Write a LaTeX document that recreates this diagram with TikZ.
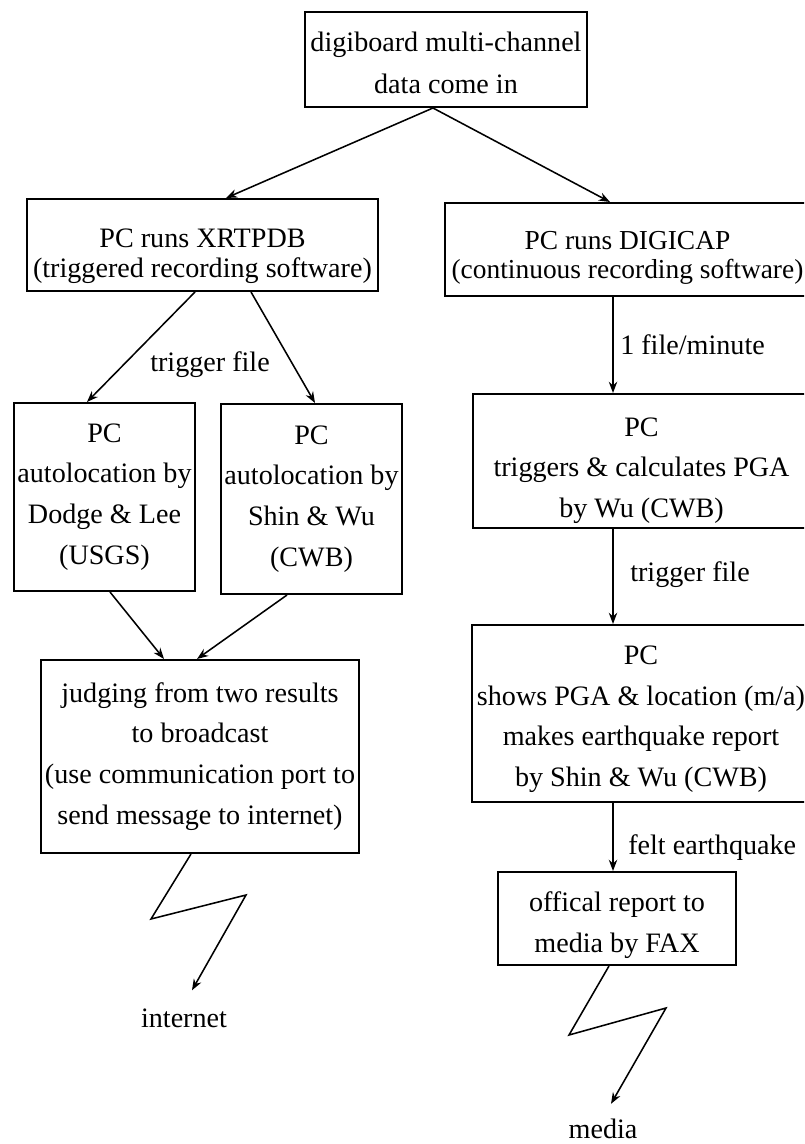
\documentclass[tikz,border=0pt]{standalone}
\usepackage{fontspec}
\setmainfont{Liberation Serif}
\usetikzlibrary{arrows.meta,positioning,calc}
\tikzset{
  blk/.style={draw,rectangle,line width=1.4pt,align=center,inner xsep=0.5pt,inner ysep=1pt,font=\fontsize{20}{29}\selectfont},
  tightblk/.style={blk,font=\fontsize{20}{21}\selectfont},
  arr/.style={-{Stealth[length=8pt,width=6pt]},line width=1.1pt},
  lbl/.style={font=\fontsize{20}{24}\selectfont,inner sep=0pt}
}
\begin{document}
\begin{tikzpicture}[x=0.025cm,y=-0.025cm]
  \path[use as bounding box,clip] (0,0) rectangle (804,1144);

  \node[blk,minimum width=7.05cm,minimum height=2.375cm,text height=49pt,font=\fontsize{20}{30}\selectfont] (dgb) at (446,59.5) {digiboard multi-channel\\data come in};

  \node[tightblk,minimum width=8.775cm,minimum height=2.3cm,text height=50pt] (xrt) at (202.5,245) {PC runs XRTPDB\\(triggered recording software)};
  \node[tightblk,minimum width=9.125cm,minimum height=2.325cm,text height=45.5pt,font=\fontsize{19.5}{21}\selectfont] (dig) at (627.5,249.5) {PC runs DIGICAP\\(continuous recording software)};

  \node[blk,minimum width=4.525cm,minimum height=4.7cm] (dodge) at (104.5,497) {PC\\autolocation by\\Dodge \& Lee\\(USGS)};
  \node[blk,minimum width=4.525cm,minimum height=4.75cm] (shin) at (311.5,499) {PC\\autolocation by\\Shin \& Wu\\(CWB)};
  \node[blk,minimum width=7.95cm,minimum height=4.825cm] (judge) at (200,756.5) {judging from two results\\to broadcast\\(use communication port to\\send message to internet)};

  \node[blk,minimum width=8.425cm,minimum height=3.35cm,text height=85pt] (pga) at (641.5,461) {PC\\triggers \& calculates PGA\\by Wu (CWB)};
  \node[blk,minimum width=8.45cm,minimum height=4.425cm,text height=108.5pt] (rpt) at (641,713.5) {PC\\shows PGA \& location (m/a)\\makes earthquake report\\by Shin \& Wu (CWB)};
  \node[blk,minimum width=5.95cm,minimum height=2.325cm,text height=52pt] (fax) at (617,918.5) {offical report to\\media by FAX};

  \node[lbl] (tf1) at (210,365) {trigger file};
  \node[lbl,anchor=west] (fpm) at (620,345) {1 file/minute};
  \node[lbl,anchor=west] (tf2) at (630,575) {trigger file};
  \node[lbl,anchor=west] (felt) at (628,848) {felt earthquake};
  \node[lbl] (inet) at (184,1018) {internet};
  \node[lbl] (media) at (603,1129) {media};

  \coordinate (z1) at (151,919);
  \coordinate (z2) at (246,895);
  \coordinate (z3) at (569,1035);
  \coordinate (z4) at (666,1008);

  \draw[arr] ($(dgb.south)+(-13,0)$) -- ($(xrt.north)+(23.5,0)$);
  \draw[arr] ($(dgb.south)+(-13,0)$) -- ($(dig.north)+(-17.5,0)$);
  \draw[arr] ($(xrt.south)+(-7.5,0)$) -- ($(dodge.north)+(-17.5,0)$);
  \draw[arr] ($(xrt.south)+(48.5,0)$) -- ($(shin.north)+(3.5,0)$);
  \draw[arr] ($(dodge.south)+(5.5,0)$) -- ($(judge.north)+(-36,0)$);
  \draw[arr] ($(shin.south)+(-24.5,0)$) -- ($(judge.north)+(-3,0)$);

  \draw[arr] ($(dig.south)+(-14.5,0)$) coordinate (v1) -- (v1 |- pga.north);
  \draw[arr] ($(pga.south)+(-28.5,0)$) coordinate (v2) -- (v2 |- rpt.north);
  \draw[arr] ($(rpt.south)+(-28,0)$) coordinate (v3) -- (v3 |- fax.north);

  \draw[arr] ($(judge.south)+(-9,0)$) -- (z1) -- (z2) -- ($(inet.north)+(8,-18)$);
  \draw[arr] ($(fax.south)+(-8,0)$) -- (z3) -- (z4) -- ($(media.north)+(8,-15)$);
\end{tikzpicture}
\end{document}
